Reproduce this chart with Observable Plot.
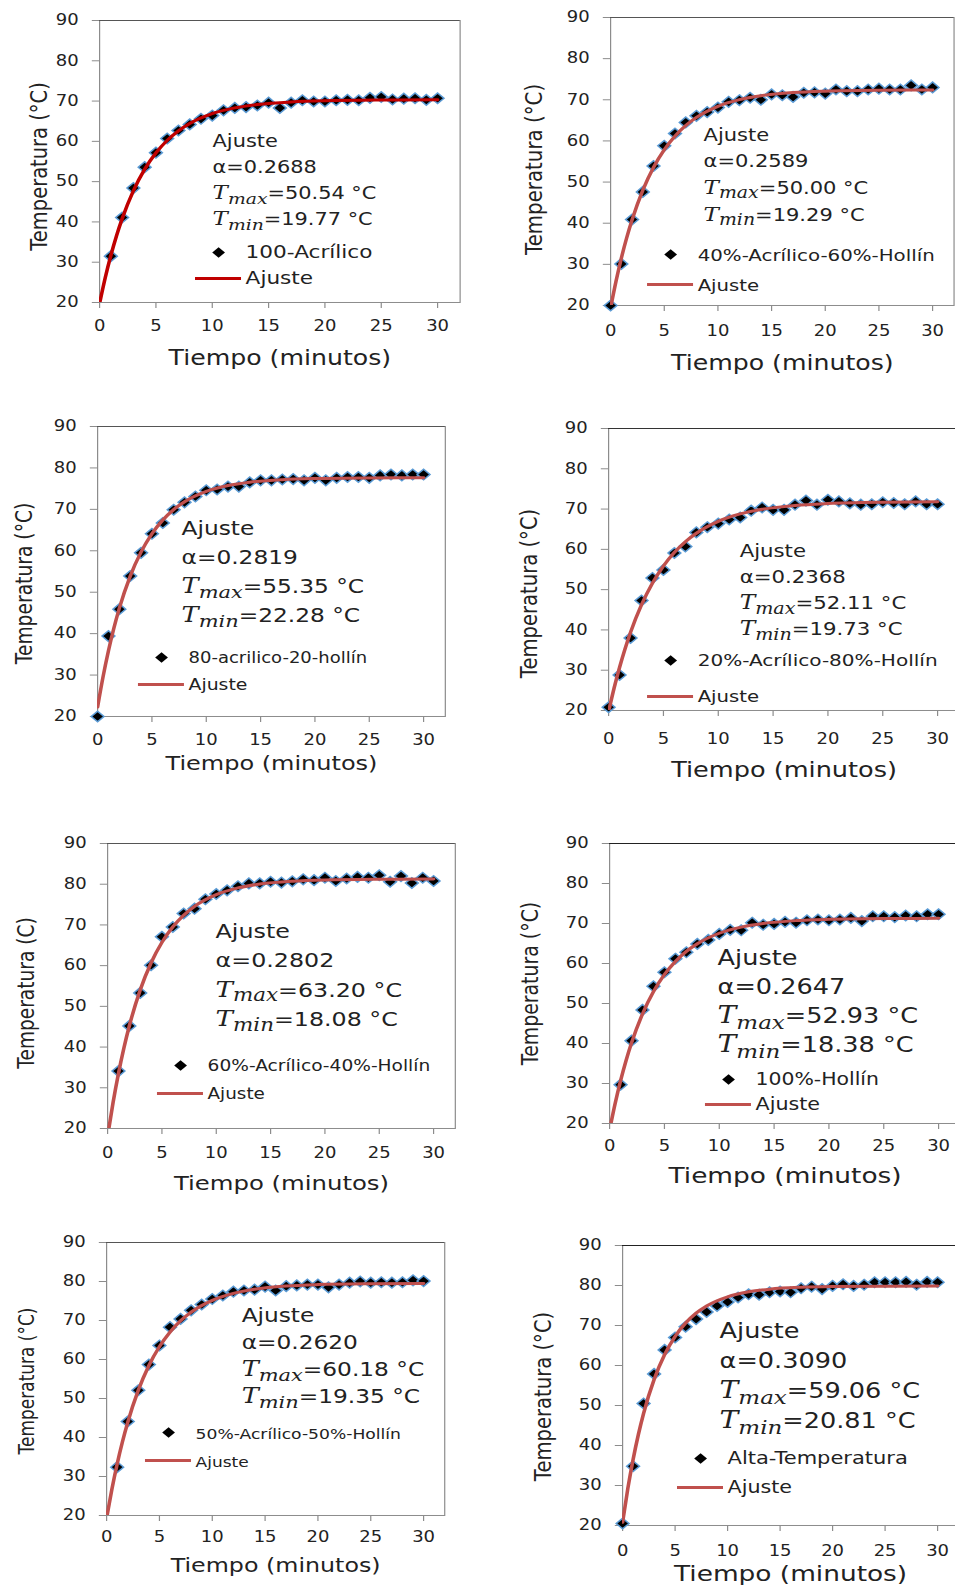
<!DOCTYPE html>
<html><head><meta charset="utf-8">
<script src="https://cdn.jsdelivr.net/npm/d3@7"></script>
<script src="https://cdn.jsdelivr.net/npm/@observablehq/plot@0.6"></script>
<style>
html,body{margin:0;padding:0;background:#fff;}
#fig{position:relative;width:955px;height:1587px;overflow:hidden;background:#fff;}
.panel{position:absolute;transform-origin:0 0;}
</style></head><body><div id="fig"></div>
<script>
// ---------- DATA ----------
const minutes = [0,1,2,3,4,5,6,7,8,9,10,11,12,13,14,15,16,17,18,19,20,21,22,23,24,25,26,27,28,29,30];
const fitMinutes = [0,0.5,1,1.5,2,3,4,5,6,7,8,10,12,14,17,20,25,30];
const xTicks = [0,5,10,15,20,25,30];
const yTicks = [20,30,40,50,60,70,80,90];
const xTitle = "Tiempo (minutos)";
const yTitles = ["Temperatura (°C)","Temperatura (°C)","Temperatura (°C)","Temperatura (°C)","Temperatura (C)","Temperatura (°C)","Temperatura (°C)","Temperatura (°C)"];
const seriesNames = ["100-Acrílico","40%-Acrílico-60%-Hollín","80-acrilico-20-hollín","20%-Acrílico-80%-Hollín","60%-Acrílico-40%-Hollín","100%-Hollín","50%-Acrílico-50%-Hollín","Alta-Temperatura"];
const fitName = "Ajuste";
const alphaLabels = ["α=0.2688","α=0.2589","α=0.2819","α=0.2368","α=0.2802","α=0.2647","α=0.2620","α=0.3090"];
const tmaxLabels = ["=50.54 °C","=50.00 °C","=55.35 °C","=52.11 °C","=63.20 °C","=52.93 °C","=60.18 °C","=59.06 °C"];
const tminLabels = ["=19.77 °C","=19.29 °C","=22.28 °C","=19.73 °C","=18.08 °C","=18.38 °C","=19.35 °C","=20.81 °C"];

const tempAcrilico100 = [null,31.5,41.1,48.4,53.6,57.2,60.7,62.7,64.2,65.6,66.4,67.7,68.3,68.5,68.9,69.6,68.3,69.6,70.2,69.9,69.9,70.2,70.3,70.2,70.8,71.0,70.4,70.6,70.7,70.3,70.7];
const tempAcr40Hol60 = [20.0,30.1,40.9,47.6,53.9,58.8,61.8,64.5,66.1,67.0,68.1,69.5,69.9,70.5,70.0,71.3,71.1,70.7,71.7,71.8,71.5,72.5,72.1,72.1,72.5,72.7,72.5,72.5,73.5,72.5,73.0];
const tempAcr80Hol20 = [20.0,39.4,45.9,53.9,59.5,64.1,66.7,69.9,71.7,73.1,74.6,74.8,75.5,75.5,76.5,77.0,77.0,77.2,77.3,77.0,77.6,77.0,77.6,77.8,77.8,77.6,78.2,78.4,78.2,78.4,78.4];
const tempAcr20Hol80 = [20.8,28.8,38.0,47.3,52.9,54.9,59.1,60.7,64.2,65.5,66.4,67.4,67.9,69.6,70.4,69.8,69.8,71.1,72.1,71.1,72.3,71.9,71.4,71.1,71.2,71.7,71.5,71.2,71.9,71.2,71.2];
const tempAcr60Hol40 = [null,34.1,45.2,53.3,60.1,67.1,69.5,72.8,74.0,76.3,77.6,78.5,79.5,80.2,80.2,80.6,80.4,80.7,81.2,81.0,81.6,80.8,81.4,81.8,81.6,82.2,80.6,82.0,80.3,81.6,80.8];
const tempHollin100 = [null,29.7,40.7,48.4,54.3,57.8,61.2,62.8,64.9,65.9,67.4,68.4,68.3,70.2,69.7,69.9,70.4,70.2,70.8,71.0,70.8,71.0,71.4,70.6,71.8,71.8,71.6,72.0,71.8,72.3,72.3];
const tempAcr50Hol50 = [null,32.4,44.1,52.1,58.7,63.6,68.3,70.4,72.6,74.1,75.5,76.4,77.4,77.7,77.9,78.7,77.7,78.8,79.0,79.2,79.2,78.5,79.2,79.7,80.0,79.7,79.8,79.7,79.8,80.3,80.1];
const tempAltaTemp = [20.5,34.8,50.5,57.9,63.9,67.0,69.7,71.6,73.4,74.9,75.9,77.0,77.8,77.7,78.3,78.5,78.3,79.3,79.7,79.1,79.9,80.3,79.9,80.2,80.8,80.8,80.8,80.9,80.2,80.9,80.8];

const fitAcrilico100 = [19.77,26.13,31.68,36.54,40.79,47.74,53.07,57.13,60.24,62.61,64.43,66.87,68.30,69.14,69.79,70.08,70.25,70.30];
const fitAcr40Hol60 = [19.4,25.83,31.49,36.46,40.82,48.03,53.59,57.88,61.19,63.75,65.72,68.42,70.03,70.99,71.75,72.10,72.32,72.38];
const fitAcr80Hol20 = [22.28,29.56,35.87,41.36,46.13,53.87,59.70,64.11,67.43,69.94,71.82,74.33,75.75,76.56,77.17,77.43,77.58,77.62];
const fitAcr20Hol80 = [19.73,25.55,30.71,35.31,39.39,46.23,51.63,55.89,59.25,61.90,64.00,66.96,68.80,69.94,70.91,71.38,71.70,71.80];
const fitAcr60Hol40 = [18.08,26.34,33.53,39.77,45.20,54.02,60.68,65.71,69.52,72.39,74.57,77.44,79.09,80.03,80.74,81.05,81.22,81.27];
const fitHollin100 = [18.38,24.94,30.69,35.73,40.14,47.39,52.95,57.23,60.50,63.02,64.94,67.56,69.10,70.01,70.72,71.04,71.24,71.29];
const fitAcr50Hol50 = [19.35,26.74,33.22,38.91,43.90,52.11,58.43,63.29,67.04,69.92,72.13,75.15,76.94,78.00,78.83,79.21,79.44,79.51];
const fitAltaTemp = [20.81,29.27,36.51,42.72,48.04,56.49,62.71,67.27,70.62,73.08,74.89,77.18,78.42,79.09,79.56,79.75,79.84,79.87];

const temps = [tempAcrilico100,tempAcr40Hol60,tempAcr80Hol20,tempAcr20Hol80,tempAcr60Hol40,tempHollin100,tempAcr50Hol50,tempAltaTemp];
const fits = [fitAcrilico100,fitAcr40Hol60,fitAcr80Hol20,fitAcr20Hol80,fitAcr60Hol40,fitHollin100,fitAcr50Hol50,fitAltaTemp];

// ---------- LAYOUT (page pixels / styles) ----------
const SX = 1.2; // horizontal stretch of the original figure
const layout = [
 {left:0,  px0:99,  px30:437, ptop:20,   pbot:302,  xPad:11.5, xtDy:63, xtSize:21,   ytDx:-60, ytDy:5,  ytSize:19.5, annX:10.03, annY:58.48, annGap:26,   annSize:17.4, legX:12.96, legY:30.93, legGap:26, legSize:18,   legSize2:18,   line:"#C00000", top:"#555"},
 {left:480,px0:610, px30:932, ptop:17,   pbot:305,  xPad:13.5, xtDy:65, xtSize:21,   ytDx:-76, ytDy:8,  ytSize:19.8, annX:8.66,  annY:60.10, annGap:26.7, annSize:17.5, legX:8.11,  legY:30.93, legGap:30, legSize:16.5, legSize2:16.4, line:"#C0504D", top:"#555"},
 {left:0,  px0:97,  px30:423, ptop:426,  pbot:716,  xPad:11.5, xtDy:54, xtSize:20,   ytDx:-73, ytDy:12, ytSize:18.7, annX:7.73,  annY:63.69, annGap:29,   annSize:19.4, legX:8.37,  legY:32.80, legGap:27, legSize:15,   legSize2:15.7, line:"#C0504D", top:"#555"},
 {left:480,px0:608, px30:937, ptop:428,  pbot:710,  xPad:16.5, xtDy:67, xtSize:21.3, ytDx:-79, ytDy:24, ytSize:19.6, annX:11.95, annY:57.98, annGap:26,   annSize:17.7, legX:8.12,  legY:30.93, legGap:36, legSize:16.7, legSize2:16.4, line:"#C0504D", top:"#333"},
 {left:0,  px0:107, px30:433, ptop:843,  pbot:1128, xPad:12.5, xtDy:62, xtSize:20.3, ytDx:-81, ytDy:7,  ytSize:18.6, annX:9.94,  annY:66.91, annGap:29.5, annSize:19.8, legX:9.20,  legY:34.0,  legGap:28, legSize:15.5, legSize2:15.3, line:"#C0504D", top:"#555"},
 {left:480,px0:609, px30:938, ptop:843,  pbot:1123, xPad:10.5, xtDy:60, xtSize:22,   ytDx:-79, ytDy:0,  ytSize:18.9, annX:9.85,  annY:59.5,  annGap:29,   annSize:21.3, legX:13.31, legY:29.5,  legGap:25, legSize:17,   legSize2:17.2, line:"#C0504D", top:"#222"},
 {left:0,  px0:106, px30:423, ptop:1242, pbot:1515, xPad:9.5,  xtDy:57, xtSize:19.8, ytDx:-79, ytDy:2,  ytSize:17,   annX:12.78, annY:69.49, annGap:27,   annSize:19.4, legX:8.42,  legY:39.74, legGap:28, legSize:14.3, legSize2:14.2, line:"#C0504D", top:"#555"},
 {left:480,px0:622, px30:937, ptop:1245, pbot:1525, xPad:13.5, xtDy:56, xtSize:22,   ytDx:-79, ytDy:11, ytSize:19.6, annX:9.24,  annY:66.75, annGap:30,   annSize:21.3, legX:10.0,  legY:35.25, legGap:29, legSize:17.5, legSize2:17.2, line:"#C0504D", top:"#222"}
];

const ctx = document.createElement("canvas").getContext("2d");
function tw(text, font){ ctx.font = font; return ctx.measureText(text).width; }
const SANS = '"DejaVu Sans"';
const SERIF = '"DejaVu Serif"';

const fig = document.getElementById("fig");

function buildPanel(i){
  const c = layout[i];
  const ml = (c.px0 - c.left) / SX;
  const fw = (c.px30 - c.px0) * 32 / 30 / SX;
  const mr = 20, mt = 15, mb = 80;
  const fh = c.pbot - c.ptop;
  const width = ml + fw + mr, height = mt + fh + mb;
  const dpx = 30 / (c.px30 - c.px0); // data units per page pixel (x)

  const pts = minutes.map((t, j) => ({t, v: temps[i][j]})).filter(d => d.v != null);
  const fit = fitMinutes.map((t, j) => ({t, v: fits[i][j]}));

  const fs = c.annSize;
  const tSize = fs * 1.1, subSize = fs * 0.9, subShift = fs * 0.25;
  const wT = tw("T", `italic ${tSize}px ${SERIF}`);
  const wMax = tw("max", `italic ${subSize}px ${SERIF}`);
  const wMin = tw("min", `italic ${subSize}px ${SERIF}`);
  const txt = (s, o) => Plot.text([s], Object.assign({x: c.annX, y: c.annY, text: d => d, textAnchor: "start", lineAnchor: "bottom", fontSize: fs}, o));

  const svg = Plot.plot({
    width, height,
    marginLeft: ml, marginRight: mr, marginTop: mt, marginBottom: mb,
    x: {domain: [0, 32]},
    y: {domain: [20, 90]},
    style: {fontFamily: SANS, fontSize: "15px", color: "#222", background: "transparent", overflow: "visible"},
    marks: [
      Plot.frame({stroke: "#8c8c8c"}),
      Plot.ruleY([d3.max(yTicks)], {stroke: c.top}),
      Plot.axisX(xTicks, {tickSize: 6, tickPadding: c.xPad, fontSize: 15, stroke: "#8c8c8c", label: null}),
      Plot.axisY(yTicks, {tickSize: 6, tickPadding: 11.5, fontSize: 15, stroke: "#8c8c8c", label: null}),
      Plot.text([xTitle], {frameAnchor: "bottom", dy: c.xtDy, text: d => d, fontSize: c.xtSize, textAnchor: "middle", lineAnchor: "bottom"}),
      Plot.text([yTitles[i]], {frameAnchor: "left", dx: c.ytDx / SX, dy: c.ytDy, rotate: -90, text: d => d, fontSize: c.ytSize, textAnchor: "middle", lineAnchor: "middle"}),
      Plot.dot(pts, {x: "t", y: "v", symbol: "diamond2", r: 4.8, fill: "#000", stroke: "#5b9bd5", strokeWidth: 1.4}),
      Plot.line(fit, {x: "t", y: "v", stroke: c.line, strokeWidth: 3, curve: "monotone-x", clip: true}),
      // annotation
      txt("Ajuste", {}),
      txt(alphaLabels[i], {dy: c.annGap}),
      txt("T", {dy: 2 * c.annGap, fontFamily: SERIF, fontStyle: "italic", fontSize: tSize}),
      txt("max", {dx: wT, dy: 2 * c.annGap + subShift, fontFamily: SERIF, fontStyle: "italic", fontSize: subSize}),
      txt(tmaxLabels[i], {dx: wT + wMax, dy: 2 * c.annGap}),
      txt("T", {dy: 3 * c.annGap, fontFamily: SERIF, fontStyle: "italic", fontSize: tSize}),
      txt("min", {dx: wT, dy: 3 * c.annGap + subShift, fontFamily: SERIF, fontStyle: "italic", fontSize: subSize}),
      txt(tminLabels[i], {dx: wT + wMin, dy: 3 * c.annGap}),
      // legend
      Plot.dot([seriesNames[i]], {x: c.legX, y: c.legY, dx: -27 / SX, dy: -6, symbol: "diamond2", r: 4.8, fill: "#000"}),
      Plot.text([seriesNames[i]], {x: c.legX, y: c.legY, text: d => d, textAnchor: "start", lineAnchor: "bottom", fontSize: c.legSize}),
      Plot.ruleY([fitName], {y: c.legY, x1: c.legX - 50 * dpx, x2: c.legX - 4 * dpx, dy: c.legGap - 6, stroke: c.line, strokeWidth: 3}),
      Plot.text([fitName], {x: c.legX, y: c.legY, dy: c.legGap, text: d => d, textAnchor: "start", lineAnchor: "bottom", fontSize: c.legSize2})
    ]
  });
  const div = document.createElement("div");
  div.className = "panel";
  div.style.left = c.left + "px";
  div.style.top = (c.ptop - mt) + "px";
  div.style.transform = `scaleX(${SX})`;
  div.appendChild(svg);
  fig.appendChild(div);
}
for (let i = 0; i < layout.length; i++) buildPanel(i);
</script>
</body></html>
